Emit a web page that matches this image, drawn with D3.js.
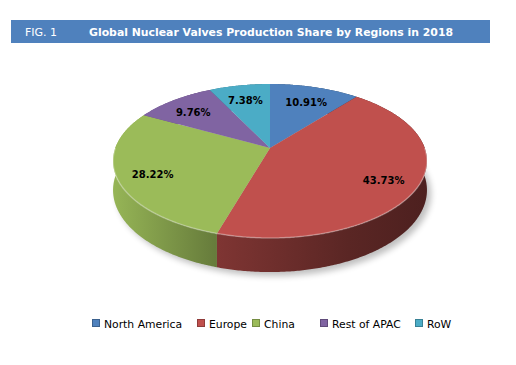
<!DOCTYPE html>
<html><head><meta charset="utf-8">
<script src="https://cdn.jsdelivr.net/npm/d3@7"></script>
<style>body{margin:0;background:#fff}svg{display:block}</style>
</head><body><div id="chart"></div>
<script>
const categories = ["North America", "Europe", "China", "Rest of APAC", "RoW"];
const values = [10.91, 43.73, 28.22, 9.76, 7.38];
const colors = ["#4f81bd", "#c0504d", "#9bbb59", "#8064a2", "#4bacc6"];
const figLabel = "FIG. 1";
const title = "Global Nuclear Valves Production Share by Regions in 2018";

const W = 516, H = 365;
const svg = d3.select("#chart").append("svg").attr("width", W).attr("height", H);
const defs = svg.append("defs");

// title bar
svg.append("rect").attr("x", 11).attr("y", 20).attr("width", 479).attr("height", 23).attr("fill", "#4f81bd");
svg.append("text").attr("x", 25).attr("y", 35.5).attr("fill", "#fff")
  .attr("font-family", "DejaVu Sans, Verdana, sans-serif").attr("font-size", 11).text(figLabel);
svg.append("text").attr("x", 89).attr("y", 35.5).attr("fill", "#fff")
  .attr("font-family", "DejaVu Sans, Verdana, sans-serif").attr("font-size", 11).attr("font-weight", "bold")
  .attr("textLength", 364).attr("lengthAdjust", "spacingAndGlyphs").text(title);

// perspective pie geometry
const cx = 270, cy = 148, k = 154.7, a = 0.169, c = 74.8, h = 28.3;
function proj(theta, r, z) {
  const X = r * Math.sin(theta), Y = -r * Math.cos(theta);
  const s = 1 / (1 - a * Y);
  return [cx + k * X * s, cy + c * Y * s + z * h * s];
}
const pie = d3.pie().sort(null).value(d => d.v);
const arcs = pie(categories.map((n, i) => ({ n, v: values[i], col: colors[i] })));
const line = d3.line();
function arcPts(a0, a1, z) {
  const n = Math.max(2, Math.ceil((a1 - a0) / 0.01));
  return d3.range(n + 1).map(i => proj(a0 + (a1 - a0) * i / n, 1, z));
}

// shadow
const blur = defs.append("filter").attr("id", "blur").attr("x", "-20%").attr("y", "-20%").attr("width", "140%").attr("height", "140%");
blur.append("feGaussianBlur").attr("stdDeviation", 3);
svg.append("path").attr("d", line(arcPts(0, 2 * Math.PI, 1)) + "Z")
  .attr("transform", "translate(4,4)").attr("fill", "#000").attr("opacity", 0.25).attr("filter", "url(#blur)");

// wall gradients
const xL = 113, xR = 427;
arcs.forEach((d, i) => {
  const g = defs.append("linearGradient").attr("id", "wall" + i).attr("gradientUnits", "userSpaceOnUse")
    .attr("x1", xL).attr("x2", xR).attr("y1", 0).attr("y2", 0);
  const base = d3.rgb(d.data.col);
  [[0, 0.97], [0.33, 0.66], [0.75, 0.47], [1, 0.4]].forEach(([o, f]) => {
    g.append("stop").attr("offset", o).attr("stop-color", d3.rgb(base.r * f, base.g * f, base.b * f).formatHex());
  });
});

// walls sorted back-to-front
const walls = arcs.map((d, i) => {
  const top = arcPts(d.startAngle, d.endAngle, 0);
  const bot = arcPts(d.startAngle, d.endAngle, 1).reverse();
  const front = d3.max(top, p => p[1]);
  return { i, pts: top.concat(bot), front };
}).sort((p, q) => p.front - q.front);
svg.append("g").selectAll("path").data(walls).join("path")
  .attr("d", w => line(w.pts) + "Z").attr("fill", w => `url(#wall${w.i})`);

// top faces
svg.append("g").selectAll("path").data(arcs).join("path")
  .attr("d", d => line([[cx, cy]].concat(arcPts(d.startAngle, d.endAngle, 0))) + "Z")
  .attr("fill", d => d.data.col);

// rim highlight on the front edge
svg.append("path").attr("d", line(arcPts(Math.PI / 2, 3 * Math.PI / 2, 0)))
  .attr("fill", "none").attr("stroke", "#fff").attr("stroke-opacity", 0.3).attr("stroke-width", 1.5);

// labels
svg.append("g").selectAll("text").data(arcs).join("text")
  .attr("transform", d => {
    const m = (d.startAngle + d.endAngle) / 2;
    const p = proj(m, 0.78, 0);
    return `translate(${p[0]},${p[1] + 3})`;
  })
  .attr("text-anchor", "middle").attr("dy", "0.35em")
  .attr("font-family", "DejaVu Sans, Verdana, sans-serif").attr("font-size", 10).attr("font-weight", "bold")
  .attr("fill", "#000").text(d => d3.format(".2f")(d.data.v) + "%");

// legend
const legX = [92, 197, 252, 320, 415];
const leg = svg.append("g").selectAll("g").data(categories).join("g")
  .attr("transform", (d, i) => `translate(${legX[i]},319)`);
leg.append("rect").attr("width", 7).attr("height", 7).attr("x", 0.5).attr("y", 0.5)
  .attr("fill", (d, i) => colors[i]).attr("stroke", (d, i) => d3.rgb(colors[i]).darker(0.8)).attr("stroke-width", 1);
leg.append("text").attr("x", 12).attr("y", 8.5)
  .attr("font-family", "DejaVu Sans, Verdana, sans-serif").attr("font-size", 10.8).attr("fill", "#000").text(d => d);
</script></body></html>
